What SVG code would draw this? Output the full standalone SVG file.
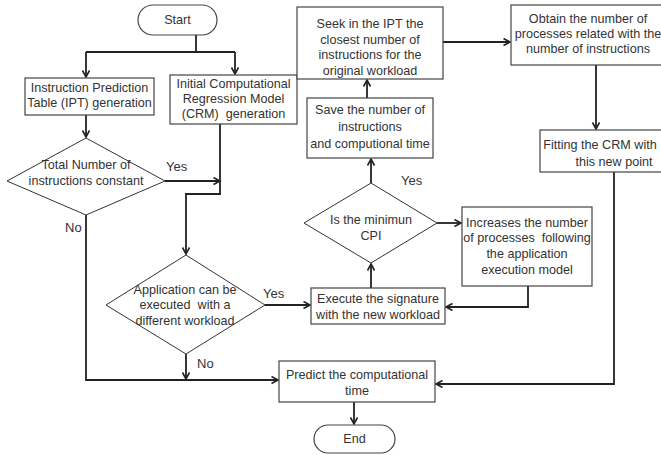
<svg xmlns="http://www.w3.org/2000/svg" width="661" height="455" viewBox="0 0 661 455">
<defs>
<marker id="ar" markerUnits="userSpaceOnUse" markerWidth="10" markerHeight="10" refX="7" refY="4" orient="auto">
<path d="M0.5,0.5 L7,4 L0.5,7.5" fill="none" stroke="#222" stroke-width="1.6"/>
</marker>
<style>
.b{fill:#fff;stroke:#444;stroke-width:1.2}
.d{fill:#fff;stroke:#333;stroke-width:1}
.t{font-family:"Liberation Sans",Arial,sans-serif;font-size:12.6px;fill:#333;text-anchor:middle;dominant-baseline:central;white-space:pre}
.l{font-family:"Liberation Sans",Arial,sans-serif;font-size:13px;fill:#333;dominant-baseline:central}
.c{fill:none;stroke:#222;stroke-width:1.8}
.a{marker-end:url(#ar)}
</style>
</defs>
<rect width="661" height="455" fill="#fff"/>
<g id="connectors">
<polyline class="c" points="196,35 196,52"/>
<polyline class="c" points="86,52 235,52"/>
<polyline class="c a" points="86,52 86,77"/>
<polyline class="c a" points="235,52 235,74"/>
<polyline class="c a" points="86,115 86,137"/>
<polyline class="c a" points="165,181 220,181"/>
<polyline class="c a" points="220,124 220,194 186,194 186,254"/>
<polyline class="c a" points="86,215 86,380 278,380"/>
<polyline class="c a" points="265,305 310,305"/>
<polyline class="c a" points="186,354 186,379"/>
<polyline class="c a" points="354,402 354,424"/>
<polyline class="c a" points="371,288 371,264"/>
<polyline class="c a" points="437,223 461,223"/>
<polyline class="c a" points="528,286 528,307 446,307"/>
<polyline class="c a" points="371,183 371,159"/>
<polyline class="c a" points="367,98 367,80"/>
<polyline class="c a" points="443,42 510,42"/>
<polyline class="c a" points="596,65 596,129"/>
<polyline class="c a" points="614,172 614,384 436,384"/>
<text class="l" x="166" y="166">Yes</text>
<text class="l" x="65" y="227">No</text>
<text class="l" x="263" y="293">Yes</text>
<text class="l" x="197" y="363">No</text>
<text class="l" x="401" y="180">Yes</text>
</g>
<g id="start">
<rect class="b" x="138" y="5" width="79" height="30" rx="15"/>
<text class="t" x="177.5" y="20">Start</text>
</g>
<g id="ipt">
<rect class="b" x="25" y="78" width="129" height="37"/>
<text class="t" x="89.5" y="88">Instruction Prediction</text>
<text class="t" x="89.5" y="103">Table (IPT) generation</text>
</g>
<g id="crm">
<rect class="b" x="170" y="75" width="127" height="49"/>
<text class="t" x="233.5" y="84">Initial Computational</text>
<text class="t" x="233.5" y="99">Regression Model</text>
<text class="t" x="233.5" y="114">(CRM)  generation</text>
</g>
<g id="decision-constant">
<polygon class="d" points="86,138 165,181 86,215 7,181"/>
<text class="t" x="86" y="165">Total Number of</text>
<text class="t" x="86" y="181">instructions constant</text>
</g>
<g id="decision-workload">
<polygon class="d" points="186,255 265,305 186,354 106,305"/>
<text class="t" x="185" y="290">Application can be</text>
<text class="t" x="185" y="305">executed  with a</text>
<text class="t" x="185" y="321">different workload</text>
</g>
<g id="predict">
<rect class="b" x="279" y="361" width="156" height="41"/>
<text class="t" x="357" y="375">Predict the computational</text>
<text class="t" x="357" y="391">time</text>
</g>
<g id="end">
<rect class="b" x="314" y="425" width="81" height="28" rx="14"/>
<text class="t" x="354.5" y="439">End</text>
</g>
<g id="execute">
<rect class="b" x="311" y="288" width="134" height="36"/>
<text class="t" x="378" y="299">Execute the signature</text>
<text class="t" x="378" y="315">with the new workload</text>
</g>
<g id="decision-cpi">
<polygon class="d" points="371,183 437,223 371,263 304,223"/>
<text class="t" x="371" y="220">Is the minimun</text>
<text class="t" x="371" y="236">CPI</text>
</g>
<g id="increases">
<rect class="b" x="462" y="207" width="130" height="79"/>
<text class="t" x="527" y="223">Increases the number</text>
<text class="t" x="527" y="238">of processes  following</text>
<text class="t" x="527" y="254">the application</text>
<text class="t" x="527" y="270">execution model</text>
</g>
<g id="save">
<rect class="b" x="307" y="98" width="126" height="60"/>
<text class="t" x="370" y="110">Save the number of</text>
<text class="t" x="370" y="127">instructions</text>
<text class="t" x="370" y="144">and computional time</text>
</g>
<g id="seek">
<rect class="b" x="297" y="7" width="146" height="72"/>
<text class="t" x="370" y="24">Seek in the IPT the</text>
<text class="t" x="370" y="40">closest number of</text>
<text class="t" x="370" y="55">instructions for the</text>
<text class="t" x="370" y="71">original workload</text>
</g>
<g id="obtain">
<rect class="b" x="511" y="5" width="154" height="60"/>
<text class="t" x="588" y="19">Obtain the number of</text>
<text class="t" x="588" y="34">processes related with the</text>
<text class="t" x="588" y="49">number of instructions</text>
</g>
<g id="fitting">
<rect class="b" x="540" y="130" width="148" height="42"/>
<text class="t" x="600" y="145">Fitting the CRM with</text>
<text class="t" x="614" y="162">this new point</text>
</g>
</svg>
